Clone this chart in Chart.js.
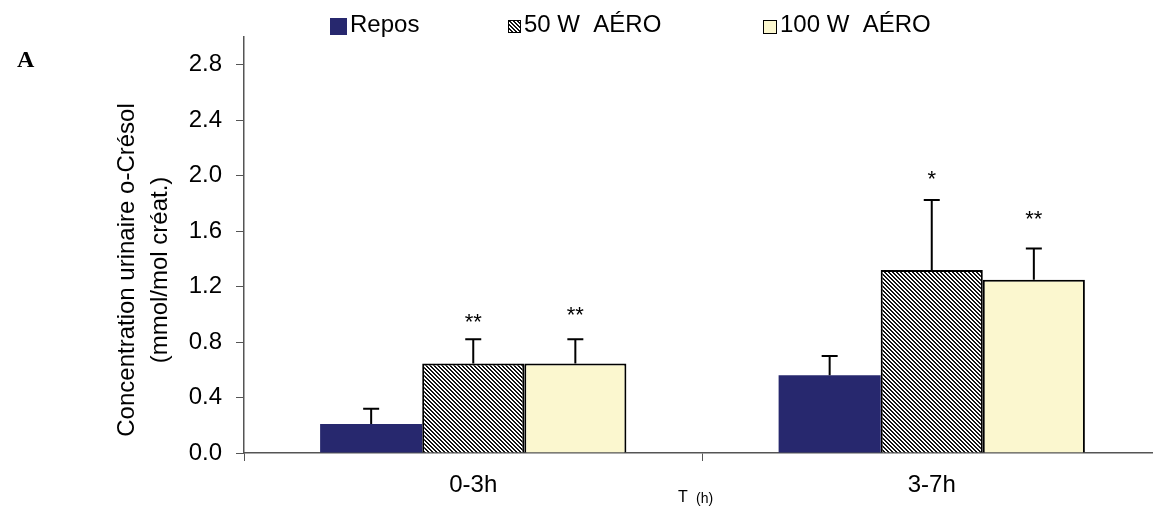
<!DOCTYPE html>
<html lang="fr">
<head>
<meta charset="UTF-8" />
<title>o-Crésol</title>
<script src="https://cdn.jsdelivr.net/npm/chart.js@4"></script>
<style>
	html, body { margin: 0; padding: 0; background: #fff; overflow: hidden; }
	#wrap { width: 1161px; height: 512px; }
</style>
</head>
<body>
<div id="wrap"><canvas id="chart" width="1161" height="512"></canvas></div>
<script>
	// values (mmol/mol créatinine)
	const categories = ['0-3h', '3-7h'];
	const seriesNames = ['Repos', '50 W  AÉRO', '100 W  AÉRO'];

	const repos = [0.21, 0.56];
	const aero50 = [0.645, 1.32];
	const aero100 = [0.645, 1.25];

	// upper error bar (SD)
	const reposErr = [0.11, 0.14];
	const aero50Err = [0.175, 0.505];
	const aero100Err = [0.175, 0.224];

	// significance marks and the level they sit at
	const reposSig = ['', ''];
	const aero50Sig = ['**', '*'];
	const aero100Sig = ['**', '**'];
	const aero50SigY = [0.98, 2.01];
	const aero100SigY = [1.03, 1.72];

	const yMin = 0;
	const yMax = 3.0;
	const yStep = 0.4;
	const yLastTick = 2.8;

	const FONT = '"Liberation Sans", Arial, sans-serif';

	function hatch() {
		const c = document.createElement('canvas');
		c.width = 4;
		c.height = 4;
		const g = c.getContext('2d');
		g.fillStyle = '#fff';
		g.fillRect(0, 0, 4, 4);
		g.fillStyle = '#111';
		for (let i = 0; i < 4; i++) {
			g.fillRect(i, i, 1, 1);
			g.fillRect((i + 1) % 4, i, 1, 1);
		}
		return g.createPattern(c, 'repeat');
	}

	const errors = [reposErr, aero50Err, aero100Err];
	const sigs = [reposSig, aero50Sig, aero100Sig];
	const sigLevels = [[null, null], aero50SigY, aero100SigY];

	const extras = {
		id: 'extras',
		afterDatasetsDraw(chart) {
			const ctx = chart.ctx;
			const y = chart.scales.y;
			ctx.save();
			chart.data.datasets.forEach((ds, i) => {
				const meta = chart.getDatasetMeta(i);
				meta.data.forEach((bar, j) => {
					const top = y.getPixelForValue(ds.data[j] + errors[i][j]);
					ctx.strokeStyle = '#000';
					ctx.lineWidth = 2;
					ctx.beginPath();
					ctx.moveTo(bar.x, bar.y);
					ctx.lineTo(bar.x, top);
					ctx.moveTo(bar.x - 8, top);
					ctx.lineTo(bar.x + 8, top);
					ctx.stroke();

					if (sigs[i][j]) {
						ctx.fillStyle = '#000';
						ctx.font = '22px ' + FONT;
						ctx.textAlign = 'center';
						ctx.textBaseline = 'alphabetic';
						ctx.fillText(sigs[i][j], bar.x, y.getPixelForValue(sigLevels[i][j]) + 12);
					}
				});
			});
			ctx.restore();
		},
		afterDraw(chart) {
			const ctx = chart.ctx;
			ctx.save();
			ctx.fillStyle = '#000';

			// panel letter
			ctx.font = 'bold 24px "Liberation Serif", "Times New Roman", serif';
			ctx.textAlign = 'left';
			ctx.textBaseline = 'alphabetic';
			ctx.fillText('A', 17, 67);

			// legend
			const boxes = [
				{ x: 330, y: 18, s: 17 },
				{ x: 508, y: 20, s: 13 },
				{ x: 763, y: 20, s: 14 },
			];
			ctx.font = '24px ' + FONT;
			chart.data.datasets.forEach((ds, i) => {
				const b = boxes[i];
				ctx.fillStyle = ds.backgroundColor;
				ctx.fillRect(b.x, b.y, b.s, b.s);
				if (ds.borderWidth) {
					ctx.strokeStyle = '#000';
					ctx.lineWidth = 1;
					ctx.strokeRect(b.x + 0.5, b.y + 0.5, b.s - 1, b.s - 1);
				}
				ctx.fillStyle = '#000';
				ctx.fillText(ds.label, b.x + b.s + 3, 32);
			});

			// y axis title, two lines
			ctx.save();
			ctx.translate(0, 270);
			ctx.rotate(-Math.PI / 2);
			ctx.textAlign = 'center';
			ctx.font = '24px ' + FONT;
			ctx.fillText('Concentration urinaire o-Crésol', 0, 134);
			ctx.fillText('(mmol/mol créat.)', 0, 167);
			ctx.restore();

			// x axis title
			ctx.textAlign = 'left';
			ctx.font = '16px ' + FONT;
			ctx.fillText('T', 678, 502);
			ctx.font = '14px ' + FONT;
			ctx.fillText('(h)', 696, 503);
			ctx.restore();
		}
	};

	new Chart(document.getElementById('chart'), {
		type: 'bar',
		data: {
			labels: categories,
			datasets: [
				{ label: seriesNames[0], data: repos, backgroundColor: '#27286E', borderWidth: 0 },
				{ label: seriesNames[1], data: aero50, backgroundColor: hatch(), borderColor: '#000', borderWidth: 2 },
				{ label: seriesNames[2], data: aero100, backgroundColor: '#FBF7CF', borderColor: '#000', borderWidth: 2 },
			],
		},
		options: {
			responsive: false,
			animation: false,
			devicePixelRatio: 1,
			layout: { padding: { top: 37, left: 0, right: 0, bottom: 0 } },
			datasets: {
				bar: { categoryPercentage: 0.668, barPercentage: 1.0, borderSkipped: 'bottom' },
			},
			plugins: {
				legend: { display: false },
				tooltip: { enabled: false },
			},
			scales: {
				x: {
					grid: { drawOnChartArea: false, tickLength: 8, color: '#555', offset: true },
					border: { color: '#555', width: 1.5 },
					ticks: { color: '#000', font: { family: FONT, size: 24 }, padding: 10 },
					afterFit: s => { s.height = 59; },
				},
				y: {
					min: yMin,
					max: yMax,
					grid: { drawOnChartArea: false, tickLength: 8, color: '#555' },
					border: { color: '#555', width: 1.5 },
					ticks: {
						stepSize: yStep,
						color: '#000',
						padding: 14,
						font: { family: FONT, size: 24 },
						callback: v => v.toFixed(1),
					},
					afterBuildTicks: s => { s.ticks = s.ticks.filter(t => t.value <= yLastTick + 1e-9); },
					afterFit: s => { s.width = 244; },
				},
			},
		},
		plugins: [extras],
	});
</script>
</body>
</html>
